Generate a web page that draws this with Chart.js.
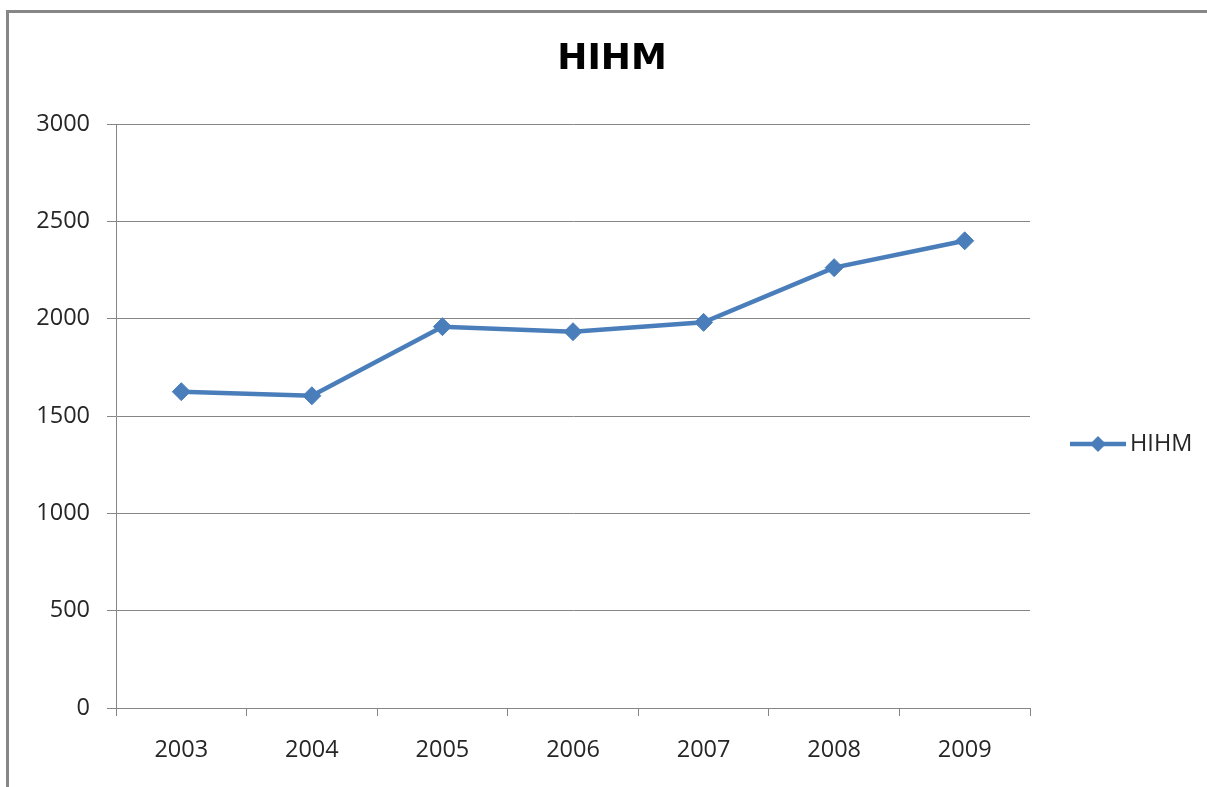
<!DOCTYPE html>
<html>
<head>
<meta charset="utf-8">
<script src="https://cdn.jsdelivr.net/npm/chart.js@4"></script>
<style>
  html, body { margin: 0; padding: 0; background: #fff; overflow: hidden; }
  #wrap { position: relative; width: 1207px; height: 787px; }
  #frame {
    position: absolute; left: 6px; top: 10px; width: 1300px; height: 900px;
    border-left: 3px solid #878787; border-top: 3px solid #878787;
  }
  #hihmChart { position: absolute; left: 0; top: 0; }
</style>
</head>
<body>
<div id="wrap">
  <div id="frame"></div>
  <canvas id="hihmChart" width="1207" height="787"></canvas>
</div>
<script>
const chartTitle = 'HIHM';
const years = ['2003', '2004', '2005', '2006', '2007', '2008', '2009'];
const hihmValues = [1625, 1604, 1959, 1933, 1981, 2262, 2400];
const yTicks = [0, 500, 1000, 1500, 2000, 2500, 3000];

const lineColor = '#4a7ebb';
const gridColor = '#868686';
const textColor = '#262626';
const tickFont = { family: 'Open Sans', size: 23.5 };

// title centred on the whole frame, not just the plot + axes
const frameTitle = {
    id: 'frameTitle',
    afterDraw(chart) {
        const ctx = chart.ctx;
        ctx.save();
        ctx.fillStyle = '#000';
        ctx.font = 'bold 36px "DejaVu Sans"';
        ctx.textAlign = 'center';
        ctx.textBaseline = 'alphabetic';
        ctx.fillText(chartTitle, 612, 69);
        ctx.restore();
    }
};

// legend drawn to the right, excel style (line with marker through it)
const sideLegend = {
    id: 'sideLegend',
    afterDraw(chart) {
        const ctx = chart.ctx;
        const ds = chart.data.datasets[0];
        const y = 444, cx = 1098, r = 8;
        ctx.save();
        ctx.strokeStyle = ds.borderColor;
        ctx.lineWidth = ds.borderWidth;
        ctx.beginPath();
        ctx.moveTo(1070, y);
        ctx.lineTo(1126, y);
        ctx.stroke();
        ctx.fillStyle = ds.pointBackgroundColor;
        ctx.beginPath();
        ctx.moveTo(cx - r, y);
        ctx.lineTo(cx, y - r);
        ctx.lineTo(cx + r, y);
        ctx.lineTo(cx, y + r);
        ctx.closePath();
        ctx.fill();
        ctx.fillStyle = textColor;
        ctx.font = '23.5px "Open Sans"';
        ctx.textBaseline = 'middle';
        ctx.textAlign = 'left';
        ctx.fillText(ds.label, 1130, y);
        ctx.restore();
    }
};

const ctx = document.getElementById('hihmChart').getContext('2d');
new Chart(ctx, {
    type: 'line',
    data: {
        labels: years,
        datasets: [{
            label: chartTitle,
            data: hihmValues,
            borderColor: lineColor,
            backgroundColor: lineColor,
            pointBackgroundColor: lineColor,
            pointBorderColor: lineColor,
            borderWidth: 4.5,
            pointStyle: 'rectRot',
            pointRadius: 9,
            pointBorderWidth: 1,
            tension: 0
        }]
    },
    options: {
        responsive: false,
        animation: false,
        layout: { padding: { left: 0, right: 177, top: 124, bottom: 0 } },
        plugins: {
            legend: { display: false },
            tooltip: { enabled: false },
            title: { display: false }
        },
        scales: {
            x: {
                offset: true,
                afterFit: s => { s.height = 79; },
                grid: {
                    offset: true,
                    drawOnChartArea: false,
                    color: gridColor,
                    tickLength: 8
                },
                border: { color: gridColor, width: 1 },
                ticks: { color: textColor, font: tickFont, padding: 20 }
            },
            y: {
                min: 0,
                max: 3000,
                afterFit: s => { s.width = 116; },
                afterBuildTicks: s => { s.ticks = yTicks.map(v => ({ value: v })); },
                grid: { color: gridColor, tickLength: 9 },
                border: { color: gridColor, width: 1 },
                ticks: { color: textColor, font: tickFont, padding: 17, callback: v => String(v) }
            }
        }
    },
    plugins: [frameTitle, sideLegend]
});
</script>
</body>
</html>
